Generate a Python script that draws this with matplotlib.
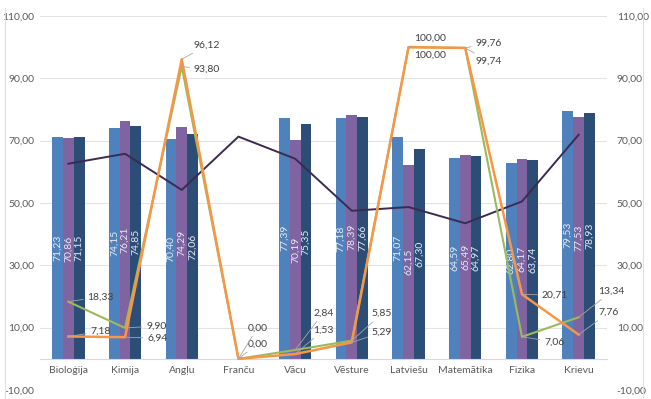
import numpy as np
import matplotlib
matplotlib.use("Agg")
import matplotlib.pyplot as plt
from matplotlib.lines import Line2D

plt.rcParams["font.family"] = ["Lato", "DejaVu Sans"]

# ----------------------------------------------------------------------
# data
# ----------------------------------------------------------------------
subjects = ["Bioloģija", "Ķimija", "Angļu", "Franču", "Vācu", "Vēsture",
            "Latviešu", "Matemātika", "Fizika", "Krievu"]

bar_a = [71.23, 74.15, 70.40, np.nan, 77.39, 77.18, 71.07, 64.59, 62.80, 79.53]
bar_b = [70.86, 76.21, 74.29, np.nan, 70.19, 78.39, 62.15, 65.49, 64.17, 77.53]
bar_c = [71.15, 74.85, 72.06, np.nan, 75.35, 77.66, 67.30, 64.97, 63.74, 78.93]

line_orange = [7.18, 6.94, 96.12, 0.00, 1.53, 5.29, 100.00, 99.76, 20.71, 7.76]
line_green = [18.33, 9.90, 93.80, 0.00, 2.84, 5.85, 100.00, 99.74, 7.06, 13.34]
line_dark = [62.6, 65.8, 54.2, 71.3, 64.2, 47.5, 48.7, 43.5, 50.5, 71.9]

yticks = [-10, 10, 30, 50, 70, 90, 110]

# label offsets in pixels (dx right, dy down) for the two labelled lines
off_orange = [(22, -5), (22, 1), (12, -14), (9, -15), (18, -24), (20, -10), (6, -9), (10, -5), (20, 1), (20, -22)]
off_green = [(19, -5), (21, -2), (12, 3), (9, -31), (18, -37), (20, -27), (6, 8), (10, 13), (22, 5), (20, -26)]

grey = "#595959"
def fmt(v):
    return f"{v:.2f}".replace(".", ",")

fig = plt.figure(figsize=(6.51, 3.99), dpi=100)
ax = fig.add_axes([40 / 651, 1 - 390 / 399, 567 / 651, 374 / 399])

x = np.arange(len(subjects))
w = 0.19
cols = ["#4F81BD", "#8064A2", "#2C4D75"]
for i, (vals, c) in enumerate(zip([bar_a, bar_b, bar_c], cols)):
    xs = x + (i - 1) * w
    ax.bar(xs, vals, width=w, color=c, zorder=2)
    for xi, v in zip(xs, vals):
        if np.isnan(v):
            continue
        ax.text(xi, v / 2, fmt(v), rotation=90, ha="center", va="center",
                fontsize=7.5, color="#E6ECF5", zorder=3)

ax.plot(x, line_dark, color="#3B2A52", lw=1.4, zorder=4)
ax.plot(x, line_green, color="#9BBB59", lw=1.5, zorder=5)
ax.plot(x, line_orange, color="#F79646", lw=1.8, zorder=6)

for vals, offs in [(line_orange, off_orange), (line_green, off_green)]:
    for xi, v, (dx, dy) in zip(x, vals, offs):
        ax.annotate(fmt(v), (xi, v), xytext=(dx * 0.72, -dy * 0.72),
                    textcoords="offset points",
                    fontsize=7.5, color="#404040", ha="left", va="center",
                    arrowprops=dict(arrowstyle="-", color="#A6A6A6", lw=0.6,
                                    shrinkA=1, shrinkB=0), zorder=7)

ax.set_xlim(-0.5, len(subjects) - 0.5)
ax.set_ylim(-10, 110)
ax.set_yticks(yticks)
ax.set_yticklabels([fmt(t) for t in yticks])
ax.grid(axis="y", color="#E3E3E3", lw=0.8, zorder=0)
ax.set_axisbelow(True)
for s in ["top", "right", "left"]:
    ax.spines[s].set_visible(False)
ax.spines["bottom"].set_position(("data", 0))
ax.spines["bottom"].set_color("#D9D9D9")
ax.set_xticks(x)
ax.set_xticklabels(subjects)
ax.tick_params(axis="x", length=0, pad=5, labelsize=7.5, labelcolor=grey)
ax.tick_params(axis="y", length=0, pad=4, labelsize=7.5, labelcolor=grey)

ax2 = ax.twinx()
ax2.set_ylim(-10, 110)
ax2.set_yticks(yticks)
ax2.set_yticklabels([fmt(t) for t in yticks])
ax2.tick_params(axis="y", length=0, pad=7, labelsize=7.5, labelcolor=grey)
for s in ax2.spines.values():
    s.set_visible(False)

# chart area border lines
fig.add_artist(Line2D([5 / 651, 5 / 651], [0, 1 - 8 / 399], color="#E0E0E0", lw=0.8))
fig.add_artist(Line2D([643 / 651, 643 / 651], [0, 1 - 8 / 399], color="#E0E0E0", lw=0.8))

fig.savefig("out.png", dpi=100)
